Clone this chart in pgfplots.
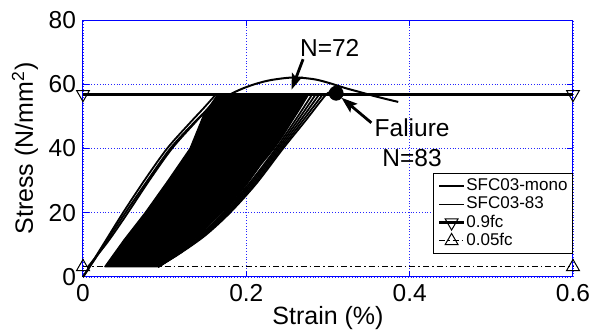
\documentclass[border=0pt]{standalone}
\usepackage{fontspec}
\setmainfont{Liberation Sans}
\usepackage{pgfplots}
\pgfplotsset{compat=1.18}
\usetikzlibrary{arrows.meta}
\begin{document}
\begin{tikzpicture}
\begin{axis}[
  name=ax,
  scale only axis, width=245pt, height=128.5pt,
  xmin=0, xmax=0.6, ymin=0, ymax=80,
  xtick={0,0.2,0.4,0.6}, xticklabels={0,0.2,0.4,0.6},
  ytick={0,20,40,60,80}, yticklabels={0,20,40,60,80},
  clip=false,
  axis line style={blue, line width=0.5pt},
  tick style={blue, line width=0.5pt},
  major tick length=3pt,
  tick align=inside,
  grid=major,
  major grid style={blue!85, densely dotted, line width=0.4pt},
  /pgf/number format/assume math mode=true,
  ticklabel style={font=\fontsize{12.25}{14}\selectfont},
  label style={font=\fontsize{12.5}{14}\selectfont},
  xlabel={Strain (\%)},
  ylabel={Stress (N/mm\textsuperscript{2})},
  xlabel style={at={(axis description cs:0.5,-0.16)}, anchor=center},
  ylabel style={at={(axis description cs:-0.1184,0.5)}, anchor=center},
  legend style={at={(1,0.406)}, anchor=north east, draw=black, line width=0.5pt, fill=white,
    font=\fontsize{8.5}{9}\selectfont, inner xsep=2pt, inner ysep=2pt, row sep=0pt,
    nodes={inner sep=0.5pt, text height=6.3pt, text depth=1.8pt}},
  legend cell align=left,
  legend image code/.code={\draw[mark repeat=2,mark phase=2,#1] plot coordinates {(0pt,0pt) (6.25pt,0pt) (12.5pt,0pt)};},
]
% dense hysteresis region
\addplot[fill=black, draw=black, line width=0.6pt, forget plot] coordinates {
 (0.0265,3.16) (0.05,11.5) (0.076,20) (0.104,30) (0.131,40) (0.139,45) (0.147,50) (0.156,53.5) (0.165,56.9)
 (0.2765,56.9) (0.266,52.5) (0.256,48.5) (0.245,44) (0.234,40) (0.218,35) (0.201,29) (0.185,24)
 (0.1695,20) (0.156,16.5) (0.143,13) (0.129,10) (0.1155,7.4) (0.103,5.2) (0.092,3.16) (0.0265,3.16)};
% first cycles
\addplot[black, line width=0.9pt, smooth, forget plot] coordinates {
 (0,0) (0.0245,10) (0.049,20) (0.075,30) (0.103,40) (0.131,48) (0.1475,52.5) (0.163,56.9)};
\addplot[black, line width=0.9pt, smooth, forget plot] coordinates {
 (0.006,3.16) (0.0305,11) (0.055,20) (0.081,30) (0.109,40) (0.137,48) (0.153,52.5) (0.168,56.9)};
% later cycles (band on the right)
\addplot[black, line width=0.9pt, smooth, forget plot] coordinates {
 (0.092,3.16) (0.1162,7.4) (0.1444,13) (0.1716,20) (0.2032,29) (0.2362,40) (0.2592,48.5) (0.2808,56.9)};
\addplot[black, line width=0.9pt, smooth, forget plot] coordinates {
 (0.092,3.16) (0.1169,7.4) (0.1458,13) (0.1737,20) (0.2054,29) (0.2384,40) (0.2624,48.5) (0.2851,56.9)};
\addplot[black, line width=0.9pt, smooth, forget plot] coordinates {
 (0.092,3.16) (0.1176,7.4) (0.1472,13) (0.1758,20) (0.2076,29) (0.2406,40) (0.2656,48.5) (0.2894,56.9)};
\addplot[black, line width=0.9pt, smooth, forget plot] coordinates {
 (0.092,3.16) (0.1183,7.4) (0.1486,13) (0.1779,20) (0.2098,29) (0.2428,40) (0.2688,48.5) (0.2937,56.9)};
% monotonic curve
\addplot[black, line width=1pt, smooth] coordinates {
 (0,0) (0.026,10) (0.052,20) (0.079,30) (0.107,40) (0.136,48) (0.158,53.3) (0.177,56.4) (0.193,58.4)
 (0.21,60.0) (0.23,61.3) (0.257,62.1) (0.282,61.6) (0.30,60.5) (0.32,58.9) (0.34,57.5) (0.36,56.1) (0.386,54.5)};
\addlegendentry{SFC03-mono}
% final cycle
\addplot[black, line width=0.9pt, smooth] coordinates {
 (0.092,3.16) (0.119,7.4) (0.150,13) (0.180,20) (0.212,29) (0.245,40) (0.272,48.5) (0.298,56.9) (0.304,57.1)};
\addlegendentry{SFC03-83}
% 0.9 fc
\addplot[black, line width=1.3pt, mark=triangle, mark size=3.7pt, mark options={solid, fill=white, line width=0.5pt, rotate=180}] coordinates {(0,56.9) (0.6,56.9)};
\addlegendentry{0.9fc}
% 0.05 fc
\addplot[black, line width=0.5pt, dash pattern=on 3pt off 1.5pt on 0.8pt off 1.5pt, mark=triangle, mark size=3.7pt, mark options={solid, fill=white, line width=0.5pt}] coordinates {(0,3.16) (0.6,3.16)};
\addlegendentry{0.05fc}
% failure point
\addplot[only marks, black, mark=*, mark size=3.5pt, forget plot] coordinates {(0.31,57.2)};
% annotations
\draw[line width=1.4pt, -{Stealth[length=8pt,width=5.5pt,inset=1.5pt]}] (axis cs:0.2695,67.8) -- (axis cs:0.2553,58.3);
\draw[line width=1.4pt, -{Stealth[length=8pt,width=5.5pt,inset=1.5pt]}] (axis cs:0.3531,48.0) -- (axis cs:0.3165,55.8);
\node[anchor=base, inner sep=0pt, font=\fontsize{12.25}{14}\selectfont] at (axis cs:0.3021,68.75) {N=72};
\node[anchor=base, inner sep=0pt, font=\fontsize{12.25}{14}\selectfont] at (axis cs:0.403,43.75) {Faliure};
\node[anchor=base, inner sep=0pt, font=\fontsize{12.25}{14}\selectfont] at (axis cs:0.403,34.4) {N=83};
\end{axis}
\pgfresetboundingbox
\path[use as bounding box] ([shift={(-41.5pt,-28.5pt)}]ax.south west) rectangle ([shift={(10pt,10pt)}]ax.north east);
\end{tikzpicture}
\end{document}
